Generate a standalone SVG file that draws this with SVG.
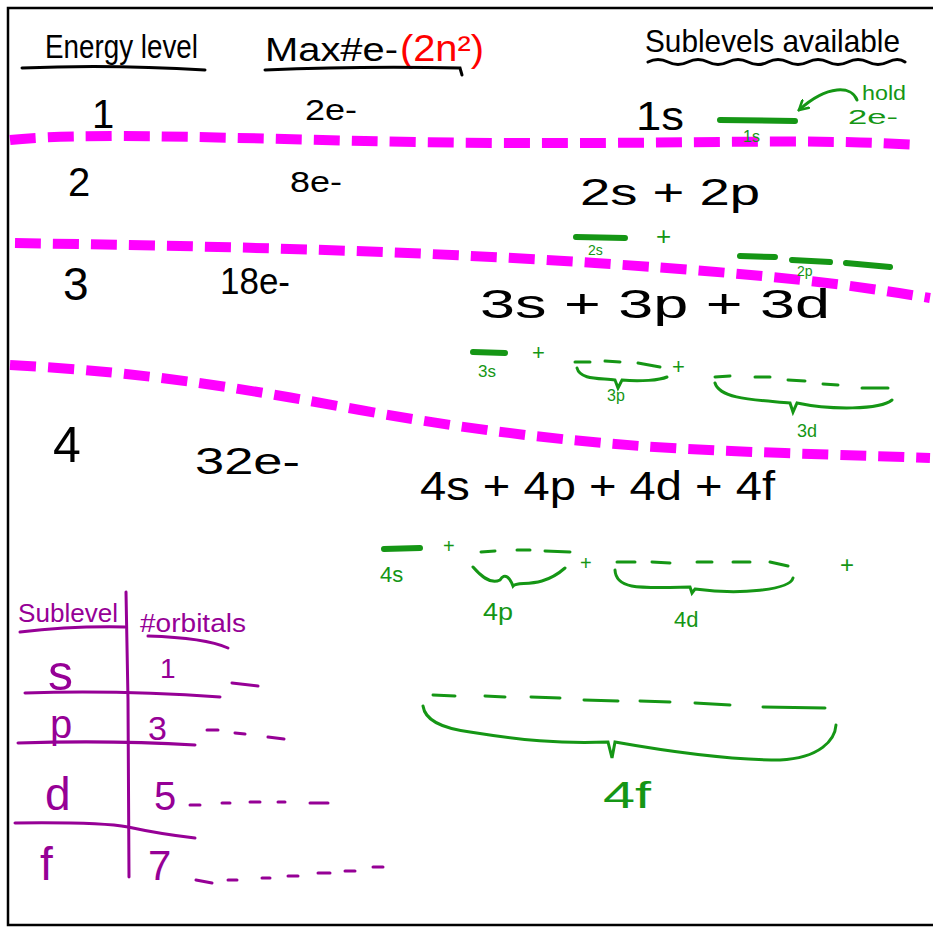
<svg xmlns="http://www.w3.org/2000/svg" width="933" height="928" viewBox="0 0 933 928">
<defs>
<style>
.t{font-family:"Liberation Sans",Arial,sans-serif;fill:#000}
.k{fill:none;stroke:#000;stroke-width:3;stroke-linecap:round}
.m{fill:none;stroke:#ff00ff;stroke-width:10;stroke-dasharray:26 12}
.g{fill:none;stroke:#159615;stroke-width:3;stroke-linecap:round}
.gb{fill:none;stroke:#159615;stroke-width:6;stroke-linecap:round}
.gt{font-family:"Liberation Sans",Arial,sans-serif;fill:#159615}
.p{fill:none;stroke:#960096;stroke-width:3;stroke-linecap:round}
.pt{font-family:"Liberation Sans",Arial,sans-serif;fill:#960096}
</style>
<marker id="ah" viewBox="0 0 12 12" refX="10" refY="6" markerWidth="12" markerHeight="12" markerUnits="userSpaceOnUse" orient="auto"><path d="M1,1 L10,6 L1,11" fill="none" stroke="#159615" stroke-width="2.5" stroke-linecap="round"/></marker>
</defs>
<rect x="0" y="0" width="933" height="928" fill="#fff"/>
<rect x="8" y="8" width="940" height="917" fill="none" stroke="#000" stroke-width="2.5"/>

<g id="headers">
<text class="t" x="45" y="58" font-size="34" textLength="153" lengthAdjust="spacingAndGlyphs">Energy level</text>
<path class="k" d="M22,68 Q110,64 205,70"/>
<text class="t" x="265" y="61" font-size="34" textLength="133" lengthAdjust="spacingAndGlyphs">Max#e-</text>
<text x="400" y="61" font-size="36" font-family="Liberation Sans,Arial,sans-serif" fill="#ff0000" textLength="84" lengthAdjust="spacingAndGlyphs">(2n²)</text>
<path class="k" d="M265,70 Q360,66 460,68 L462,75"/>
<text class="t" x="645" y="52" font-size="32" textLength="255" lengthAdjust="spacingAndGlyphs">Sublevels available</text>
<path class="k" d="M648,62 q10,-5 20,0 t20,0 t20,0 t20,0 t20,0 t20,0 t20,0 t20,0 t20,0 t20,0 t20,0 t20,0 t17,0"/>
</g>

<g id="dividers">
<path class="m" d="M10,140 C100,130 300,142 500,143 S800,138 920,145"/>
<path class="m" d="M15,243 C200,246 400,250 595,263 S850,285 930,298"/>
<path class="m" d="M10,365 C150,372 250,390 360,410 S560,440 640,446 S850,455 930,458"/>
</g>

<g id="row1">
<text class="t" x="92" y="128" font-size="40">1</text>
<text class="t" x="305" y="120" font-size="30" textLength="52" lengthAdjust="spacingAndGlyphs">2e-</text>
<text class="t" x="636" y="130" font-size="40" textLength="48" lengthAdjust="spacingAndGlyphs">1s</text>
<path class="gb" d="M720,120 L795,121"/>
<text class="gt" x="743" y="142" font-size="16">1s</text>
<path class="g" d="M857,100 C852,86 828,84 799,110" marker-end="url(#ah)"/>
<text class="gt" x="862" y="100" font-size="20" textLength="44" lengthAdjust="spacingAndGlyphs">hold</text>
<text class="gt" x="848" y="124" font-size="20" textLength="50" lengthAdjust="spacingAndGlyphs">2e-</text>
</g>

<g id="row2">
<text class="t" x="68" y="196" font-size="40">2</text>
<text class="t" x="290" y="192" font-size="30" textLength="52" lengthAdjust="spacingAndGlyphs">8e-</text>
<text class="t" x="580" y="205" font-size="36" textLength="180" lengthAdjust="spacingAndGlyphs">2s + 2p</text>
<path class="gb" d="M576,237 L625,238"/>
<text class="gt" x="588" y="255" font-size="14">2s</text>
<text class="gt" x="656" y="245" font-size="26">+</text>
<path class="gb" d="M740,256 L775,257"/>
<path class="gb" d="M792,260 L830,262"/>
<path class="gb" d="M846,263 L890,267"/>
<text class="gt" x="797" y="276" font-size="14">2p</text>
</g>

<g id="row3">
<text class="t" x="63" y="300" font-size="46">3</text>
<text class="t" x="220" y="294" font-size="36" textLength="70" lengthAdjust="spacingAndGlyphs">18e-</text>
<text class="t" x="480" y="318" font-size="40" textLength="350" lengthAdjust="spacingAndGlyphs">3s + 3p + 3d</text>
<path class="gb" d="M473,352 L505,353"/>
<text class="gt" x="478" y="377" font-size="17">3s</text>
<text class="gt" x="532" y="360" font-size="22">+</text>
<path class="g" d="M575,362 L590,362 M605,361 L620,362 M638,363 L660,367"/>
<path class="g" d="M577,368 C580,380 600,378 615,380 L618,388 L622,380 C640,382 660,380 667,377"/>
<text class="gt" x="607" y="401" font-size="16">3p</text>
<text class="gt" x="672" y="374" font-size="22">+</text>
<path class="g" d="M715,377 L730,376 M755,377 L770,377 M788,380 L805,381 M823,384 L838,385 M862,388 L888,388"/>
<path class="g" d="M715,383 C720,400 760,400 790,403 L793,412 L797,403 C830,410 880,410 892,400"/>
<text class="gt" x="797" y="437" font-size="18">3d</text>
</g>

<g id="row4">
<text class="t" x="53" y="462" font-size="50">4</text>
<text class="t" x="195" y="474" font-size="36" textLength="105" lengthAdjust="spacingAndGlyphs">32e-</text>
<text class="t" x="420" y="500" font-size="40" textLength="355" lengthAdjust="spacingAndGlyphs">4s + 4p + 4d + 4f</text>
<path class="gb" d="M384,549 L420,548"/>
<text class="gt" x="380" y="582" font-size="22">4s</text>
<text class="gt" x="443" y="553" font-size="20">+</text>
<path class="g" d="M481,552 L495,551 M517,550 L530,550 M545,551 L570,552"/>
<path class="g" d="M473,567 C480,575 490,585 500,580 C505,572 510,578 513,586 C518,580 540,590 565,568"/>
<text class="gt" x="483" y="620" font-size="24" textLength="30" lengthAdjust="spacingAndGlyphs">4p</text>
<text class="gt" x="580" y="570" font-size="20">+</text>
<path class="g" d="M617,562 L635,562 M652,562 L670,563 M697,562 L712,562 M733,562 L750,562 M770,562 L788,566"/>
<path class="g" d="M615,570 C616,590 640,588 690,587 L692,593 L695,589 C740,595 790,590 793,578"/>
<text class="gt" x="674" y="627" font-size="22">4d</text>
<text class="gt" x="840" y="573" font-size="24">+</text>
</g>

<g id="f-orbitals">
<path class="g" d="M433,695 L455,696 M485,696 L505,697 M531,697 L560,698 M584,700 L618,701 M640,701 L670,702 M695,703 L730,705 M763,707 L825,708"/>
<path class="g" d="M423,706 C425,720 440,728 470,732 C520,740 560,744 608,742 L612,758 L615,742 C660,750 730,760 780,760 C820,758 835,740 836,725"/>
<text class="gt" x="603" y="808" font-size="36" textLength="48" lengthAdjust="spacingAndGlyphs">4f</text>
</g>

<g id="orbital-table">
<text class="pt" x="18" y="622" font-size="26" textLength="100" lengthAdjust="spacingAndGlyphs">Sublevel</text>
<path class="p" d="M20,632 Q70,626 125,627"/>
<text class="pt" x="140" y="632" font-size="26" textLength="106" lengthAdjust="spacingAndGlyphs">#orbitals</text>
<path class="p" d="M148,636 C180,637 210,640 228,648"/>
<path class="p" d="M126,592 L128,700 L129,877"/>
<text class="pt" x="48" y="690" font-size="50">s</text>
<text class="pt" x="160" y="678" font-size="28">1</text>
<path class="p" d="M232,683 L258,686"/>
<path class="p" d="M25,693 Q120,690 220,697"/>
<text class="pt" x="50" y="738" font-size="40">p</text>
<text class="pt" x="148" y="740" font-size="34">3</text>
<path class="p" d="M207,730 L218,730 M235,733 L245,734 M268,737 L284,739"/>
<path class="p" d="M18,743 Q110,740 195,745"/>
<text class="pt" x="45" y="810" font-size="46">d</text>
<text class="pt" x="154" y="810" font-size="40">5</text>
<path class="p" d="M190,805 L200,805 M222,803 L230,803 M250,802 L260,802 M278,802 L285,802 M310,803 L328,803"/>
<path class="p" d="M15,823 Q100,822 128,827 Q160,834 195,838"/>
<text class="pt" x="40" y="880" font-size="46">f</text>
<text class="pt" x="148" y="880" font-size="42">7</text>
<path class="p" d="M196,880 L212,883 M228,880 L237,880 M262,878 L270,878 M288,876 L298,876 M318,873 L330,873 M345,871 L355,871 M373,867 L383,867"/>
</g>
</svg>
